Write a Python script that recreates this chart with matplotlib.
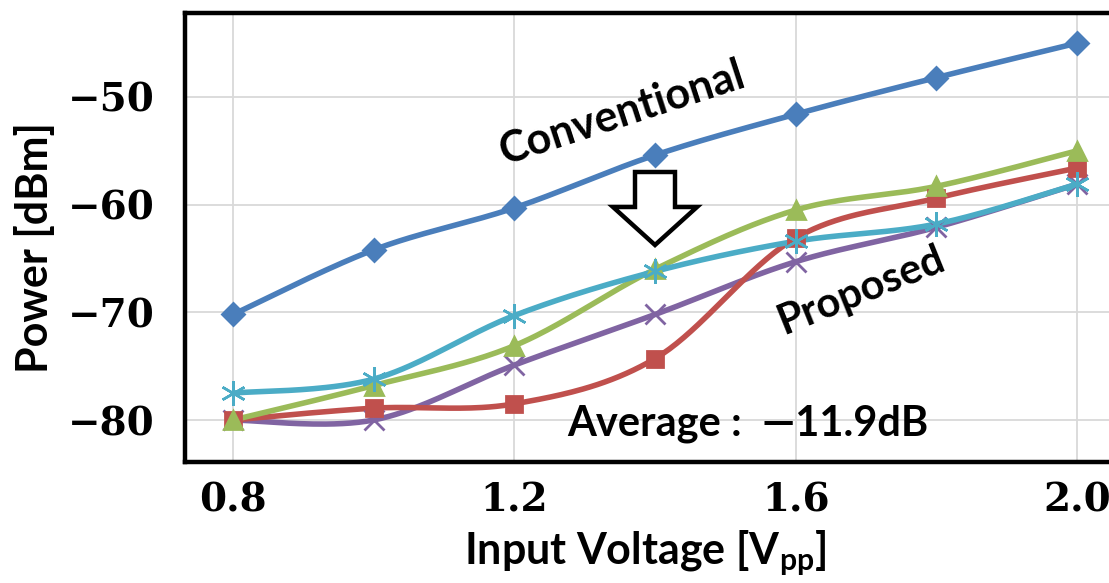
import numpy as np
import matplotlib
matplotlib.use("Agg")
import matplotlib.pyplot as plt
from matplotlib.patches import Polygon
from matplotlib.transforms import Affine2D

# Input amplitude sweep [Vpp]
voltage = [0.8, 1.0, 1.2, 1.4, 1.6, 1.8, 2.0]

# Output power [dBm]
conventional = [-70.2, -64.2, -60.3, -55.4, -51.6, -48.2, -45.0]
proposed_a = [-80.0, -78.9, -78.5, -74.3, -63.1, -59.4, -56.6]   # red squares
proposed_b = [-80.0, -76.8, -73.1, -66.0, -60.5, -58.3, -55.0]   # green triangles
proposed_c = [-77.5, -76.2, -70.3, -66.2, -63.4, -61.8, -58.1]   # cyan asterisks
proposed_d = [-80.0, -80.0, -74.9, -70.2, -65.3, -62.1, -58.1]   # purple crosses

x_ticks = [0.8, 1.2, 1.6, 2.0]
y_ticks = [-50, -60, -70, -80]
y_tick_labels = ["\u221250", "\u221260", "\u221270", "\u221280"]


def smooth(xs, ys, n=40):
    """Catmull-Rom curve through the points (spreadsheet-style smoothed line)."""
    xs = np.asarray(xs, float)
    ys = np.asarray(ys, float)
    px = np.concatenate([[xs[0]], xs, [xs[-1]]])
    py = np.concatenate([[ys[0]], ys, [ys[-1]]])
    out_x, out_y = [], []
    t = np.linspace(0, 1, n)
    for i in range(1, len(px) - 2):
        p0x, p1x, p2x, p3x = px[i - 1], px[i], px[i + 1], px[i + 2]
        p0y, p1y, p2y, p3y = py[i - 1], py[i], py[i + 1], py[i + 2]
        c1x, c1y = p1x + (p2x - p0x) / 6, p1y + (p2y - p0y) / 6
        c2x, c2y = p2x - (p3x - p1x) / 6, p2y - (p3y - p1y) / 6
        bx = (1 - t) ** 3 * p1x + 3 * (1 - t) ** 2 * t * c1x + 3 * (1 - t) * t ** 2 * c2x + t ** 3 * p2x
        by = (1 - t) ** 3 * p1y + 3 * (1 - t) ** 2 * t * c1y + 3 * (1 - t) * t ** 2 * c2y + t ** 3 * p2y
        out_x.extend(bx)
        out_y.extend(by)
    return np.array(out_x), np.array(out_y)


W, H = 1109, 583
fig = plt.figure(figsize=(W / 100, H / 100), dpi=100)
ax = fig.add_axes([185 / W, 1 - 462 / H, (W - 185) / W, (462 - 13) / H])

# pixel-coordinate transform (origin top-left)
px_tr = Affine2D().scale(1 / W, -1 / H).translate(0, 1) + fig.transFigure

series = [
    (conventional, "#4A7EBB", "D", 11, 2),
    (proposed_d, "#8064A2", "x", 14, 2),
    (proposed_a, "#C0504D", "s", 12, 2),
    (proposed_b, "#9BBB59", "^", 13, 2),
    (proposed_c, "#4BACC6", (6, 2, 0), 18, 1.8),
]
for ys, color, marker, ms, mew in series:
    sx, sy = smooth(voltage, ys)
    ax.plot(sx, sy, color=color, lw=4.0, solid_capstyle="round", zorder=3)
    ax.plot(voltage, ys, linestyle="none", marker=marker, markersize=ms,
            color=color, markeredgecolor=color, markeredgewidth=mew, zorder=4)

ax.set_xlim(0.7318, 2.0455)
ax.set_ylim(-83.9, -42.2)
ax.set_xticks(x_ticks)
ax.set_xticklabels([f"{v:.1f}" for v in x_ticks])
ax.set_yticks(y_ticks)
ax.set_yticklabels(y_tick_labels)
ax.grid(True, color="#d9d9d9", lw=1.3, zorder=0)
ax.tick_params(length=0, pad=22)
for lab in ax.get_xticklabels() + ax.get_yticklabels():
    lab.set_fontfamily("DejaVu Serif")
    lab.set_fontweight("bold")
    lab.set_fontsize(28)
ax.tick_params(axis="x", pad=14)

for side in ["left", "bottom", "top"]:
    ax.spines[side].set_linewidth(3.2)
    ax.spines[side].set_color("black")
ax.spines["right"].set_visible(False)

label_font = ["Lato", "DejaVu Sans"]
fig.text(35 / W, 1 - 248 / H, "Power [dBm]", rotation=90, ha="center", va="center",
         family=label_font, fontweight="bold", fontsize=31)
fig.text(645 / W, 1 - 553 / H, "Input Voltage [V$_{\\mathregular{pp}}$]", ha="center", va="center",
         family=label_font, fontweight="bold", fontsize=31)

fig.text(622 / W, 1 - 113 / H, "Conventional", rotation=18, ha="center", va="center",
         family=label_font, fontweight="bold", fontsize=31)
fig.text(861 / W, 1 - 290 / H, "Proposed", rotation=22, ha="center", va="center",
         family=label_font, fontweight="bold", fontsize=30)
fig.text(748 / W, 1 - 424 / H, "Average :  \u201411.9dB", ha="center", va="center",
         family=label_font, fontweight="bold", fontsize=30)

# hollow down arrow
arrow_pts = [(635, 172), (675, 172), (675, 207), (697, 207), (655, 245),
             (613, 207), (635, 207)]
fig.patches.append(Polygon(arrow_pts, closed=True, facecolor="white", edgecolor="black",
                           lw=3.2, transform=px_tr, zorder=5))

fig.savefig("out.png", dpi=100)
